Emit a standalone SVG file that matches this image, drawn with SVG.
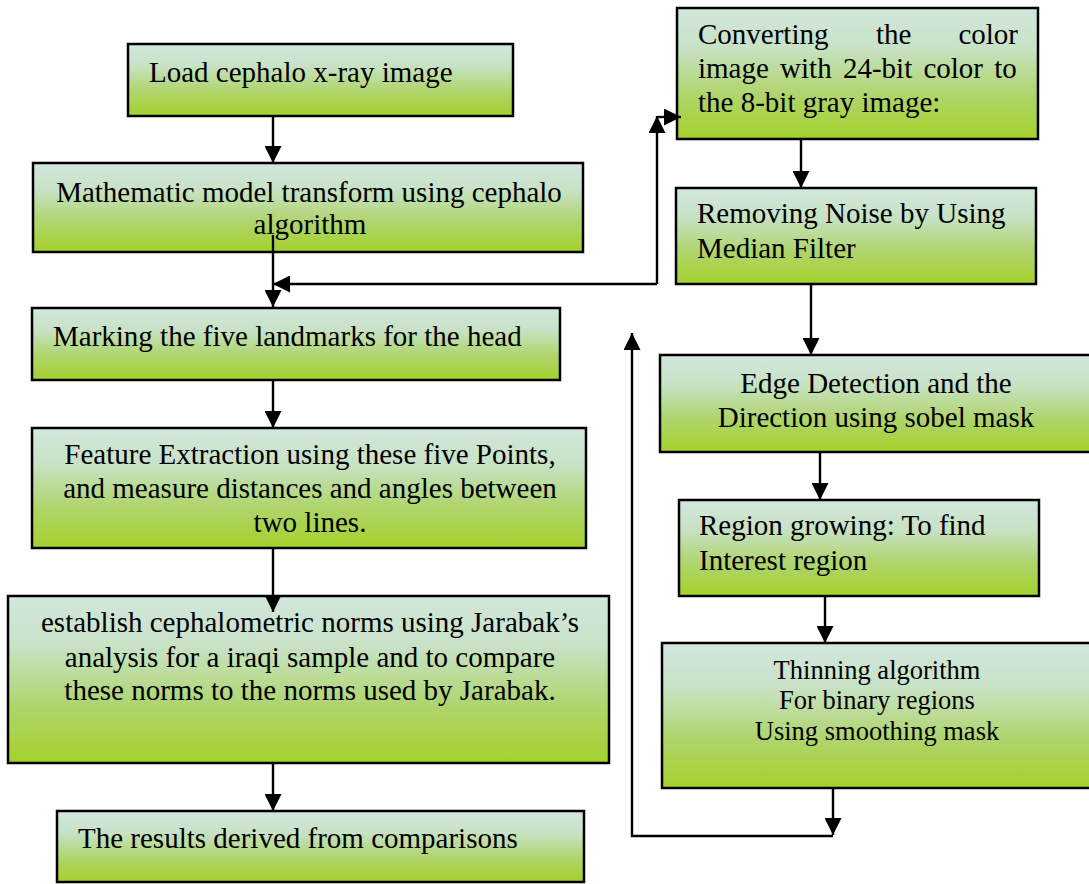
<svg xmlns="http://www.w3.org/2000/svg" width="1089" height="884" viewBox="0 0 1089 884">
<defs>
<linearGradient id="g" x1="0" y1="0" x2="0" y2="1">
<stop offset="0" stop-color="#d1e7dc"/>
<stop offset="0.3" stop-color="#c8e2c6"/>
<stop offset="0.65" stop-color="#afd56e"/>
<stop offset="1" stop-color="#a5d12b"/>
</linearGradient>
<marker id="ah" viewBox="0 0 17 17" refX="17" refY="8.5" markerWidth="17" markerHeight="17" markerUnits="userSpaceOnUse" orient="auto">
<path d="M0,0 L17,8.5 L0,17 Z" fill="#000"/>
</marker>
</defs>
<style>
.box{fill:url(#g);stroke:#000;stroke-width:2.5}
.t{font-family:"Liberation Serif","Times New Roman",serif;font-size:29px;fill:#000}
.s{font-size:26.5px}
.c{text-anchor:middle}
.ln{fill:none;stroke:#000;stroke-width:2.4}
</style>
<rect width="1089" height="884" fill="#fff"/>

<g id="n1"><rect class="box" x="128" y="44" width="385" height="72"/>
<text class="t" x="149" y="82">Load cephalo x-ray image</text></g>

<g id="n2"><rect class="box" x="33" y="163" width="550" height="89"/>
<text class="t c" x="309" y="202">Mathematic model transform using cephalo</text>
<text class="t c" x="310" y="234">algorithm</text></g>

<g id="n3"><rect class="box" x="32" y="308" width="528" height="72"/>
<text class="t" x="53" y="346">Marking the five landmarks for the head</text></g>

<g id="n4"><rect class="box" x="32" y="428" width="554" height="120"/>
<text class="t c" x="310" y="464">Feature Extraction using these five Points,</text>
<text class="t c" x="310" y="498">and measure distances and angles between</text>
<text class="t c" x="310" y="532">two lines.</text></g>

<g id="n5"><rect class="box" x="8" y="596" width="601" height="167"/>
<text class="t c" x="310" y="632">establish cephalometric norms using Jarabak’s</text>
<text class="t c" x="310" y="667">analysis for a iraqi sample and to compare</text>
<text class="t c" x="310" y="700">these norms to the norms used by Jarabak.</text></g>

<g id="n6"><rect class="box" x="57" y="811" width="527" height="71"/>
<text class="t" x="78" y="848">The results derived from comparisons</text></g>

<g id="r1"><rect class="box" x="677" y="8" width="361" height="131"/>
<text class="t" y="44"><tspan x="698">Converting</tspan><tspan x="876">the</tspan><tspan x="1018" text-anchor="end">color</tspan></text>
<text class="t" x="698" y="78" word-spacing="4">image with 24-bit color to</text>
<text class="t" x="698" y="112">the 8-bit gray image:</text></g>

<g id="r2"><rect class="box" x="676" y="188" width="360" height="96"/>
<text class="t" x="697" y="223">Removing Noise by Using</text>
<text class="t" x="697" y="258">Median Filter</text></g>

<g id="r3"><rect class="box" x="660" y="355" width="440" height="97"/>
<text class="t c" x="876" y="393">Edge Detection and the</text>
<text class="t c" x="876" y="427">Direction using sobel mask</text></g>

<g id="r4"><rect class="box" x="679" y="500" width="360" height="96"/>
<text class="t" x="699" y="535">Region growing: To find</text>
<text class="t" x="699" y="570">Interest region</text></g>

<g id="r5"><rect class="box" x="662" y="643" width="440" height="145"/>
<text class="t s c" x="877" y="679">Thinning algorithm</text>
<text class="t s c" x="877" y="709">For binary regions</text>
<text class="t s c" x="877" y="740">Using smoothing mask</text></g>

<g id="connectors">
<path class="ln" d="M273,116 V163" marker-end="url(#ah)"/>
<path class="ln" d="M273,235 V307" marker-end="url(#ah)"/>
<path class="ln" d="M273,380 V428" marker-end="url(#ah)"/>
<path class="ln" d="M273,548 V612" marker-end="url(#ah)"/>
<path class="ln" d="M273,763 V811" marker-end="url(#ah)"/>
<path class="ln" d="M657,284 H273" marker-end="url(#ah)"/>
<path class="ln" d="M657,284 V116" marker-end="url(#ah)"/>
<path class="ln" d="M657,117 H681" marker-end="url(#ah)"/>
<path class="ln" d="M801,139 V188" marker-end="url(#ah)"/>
<path class="ln" d="M811,284 V355" marker-end="url(#ah)"/>
<path class="ln" d="M820,452 V500" marker-end="url(#ah)"/>
<path class="ln" d="M825,596 V643" marker-end="url(#ah)"/>
<path class="ln" d="M833,788 V835" marker-end="url(#ah)"/>
<path class="ln" d="M833,836 H632 V333" marker-end="url(#ah)"/>
</g>
</svg>
